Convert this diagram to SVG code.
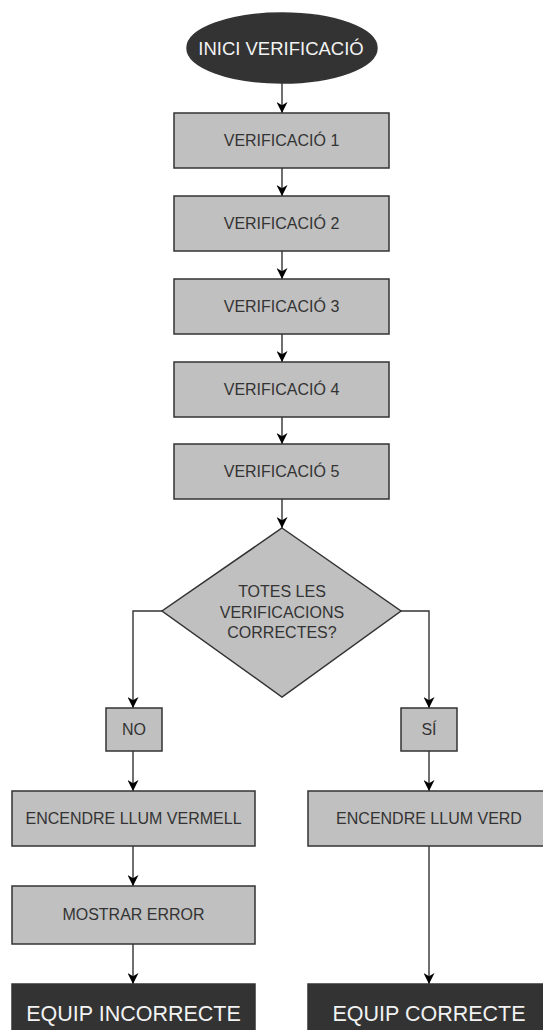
<svg xmlns="http://www.w3.org/2000/svg" width="543" height="1030" viewBox="0 0 543 1030">
<style>
.box{fill:#c0c0c0;stroke:#333;stroke-width:1.5}
.term{fill:#333;stroke:#333;stroke-width:1.5}
.t{font-family:"Liberation Sans",Arial,sans-serif;font-size:16px;fill:#333;text-anchor:middle}
.tw{font-family:"Liberation Sans",Arial,sans-serif;fill:#f2f2f2;text-anchor:middle}
.c{fill:none;stroke:#333;stroke-width:1.4}
</style>
<defs>
<marker id="ah" viewBox="0 0 10 10" refX="10" refY="5" markerWidth="11" markerHeight="11" markerUnits="userSpaceOnUse" orient="auto">
<path d="M0,0 L10,5 L0,10 L3,5 z" fill="#000"/>
</marker>
</defs>
<rect width="543" height="1030" fill="#fff"/>
<g id="connectors">
<path class="c" d="M282,83 V113" marker-end="url(#ah)"/>
<path class="c" d="M282,168 V196" marker-end="url(#ah)"/>
<path class="c" d="M282,251 V279" marker-end="url(#ah)"/>
<path class="c" d="M282,334 V362" marker-end="url(#ah)"/>
<path class="c" d="M282,417 V444" marker-end="url(#ah)"/>
<path class="c" d="M282,499 V528" marker-end="url(#ah)"/>
<path class="c" d="M162,611 H133 V708" marker-end="url(#ah)"/>
<path class="c" d="M401,611 H429 V708" marker-end="url(#ah)"/>
<path class="c" d="M133,751 V791" marker-end="url(#ah)"/>
<path class="c" d="M429,751 V791" marker-end="url(#ah)"/>
<path class="c" d="M133,846 V886" marker-end="url(#ah)"/>
<path class="c" d="M133,944 V984" marker-end="url(#ah)"/>
<path class="c" d="M429,846 V984" marker-end="url(#ah)"/>
</g>
<g id="start">
<ellipse class="term" cx="282" cy="48" rx="95" ry="35"/>
<text class="tw" x="281" y="55" font-size="18.5">INICI VERIFICACIÓ</text>
</g>
<g id="v1"><rect class="box" x="174" y="113" width="215" height="55"/><text class="t" x="281.5" y="146">VERIFICACIÓ 1</text></g>
<g id="v2"><rect class="box" x="174" y="196" width="215" height="55"/><text class="t" x="281.5" y="229">VERIFICACIÓ 2</text></g>
<g id="v3"><rect class="box" x="174" y="279" width="215" height="55"/><text class="t" x="281.5" y="312">VERIFICACIÓ 3</text></g>
<g id="v4"><rect class="box" x="174" y="362" width="215" height="55"/><text class="t" x="281.5" y="395">VERIFICACIÓ 4</text></g>
<g id="v5"><rect class="box" x="174" y="444" width="215" height="55"/><text class="t" x="281.5" y="477">VERIFICACIÓ 5</text></g>
<g id="decision">
<polygon class="box" points="282,528 401,611 282,697 162,611"/>
<text class="t" x="282" y="597">TOTES LES</text>
<text class="t" x="282" y="618">VERIFICACIONS</text>
<text class="t" x="282" y="638">CORRECTES?</text>
</g>
<g id="no"><rect class="box" x="106" y="708" width="56" height="43"/><text class="t" x="134" y="735">NO</text></g>
<g id="si"><rect class="box" x="401" y="708" width="56" height="43"/><text class="t" x="429" y="735">SÍ</text></g>
<g id="vermell"><rect class="box" x="12" y="791" width="243" height="55"/><text class="t" x="133.5" y="824">ENCENDRE LLUM VERMELL</text></g>
<g id="verd"><rect class="box" x="308" y="791" width="243" height="55"/><text class="t" x="429" y="824">ENCENDRE LLUM VERD</text></g>
<g id="error"><rect class="box" x="12" y="886" width="243" height="58"/><text class="t" x="133.5" y="920">MOSTRAR ERROR</text></g>
<g id="incorrecte"><rect class="term" x="12" y="984" width="243" height="60"/><text class="tw" x="133.5" y="1021" font-size="21.5">EQUIP INCORRECTE</text></g>
<g id="correcte"><rect class="term" x="308" y="984" width="243" height="60"/><text class="tw" x="429" y="1021" font-size="21.5">EQUIP CORRECTE</text></g>
</svg>
